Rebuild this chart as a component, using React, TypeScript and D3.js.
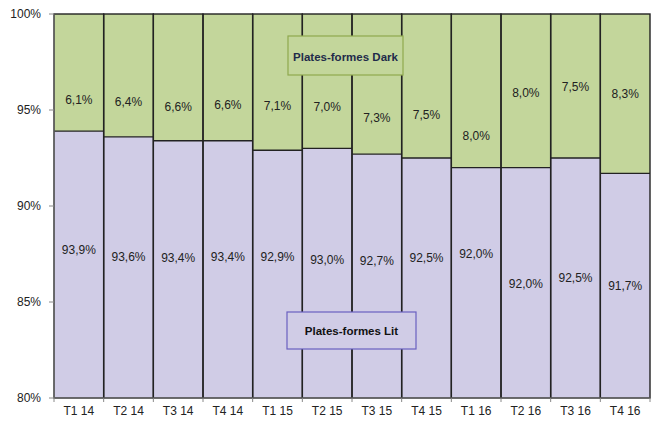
import React from "react";
import * as d3 from "d3";

const categories = ["T1 14", "T2 14", "T3 14", "T4 14", "T1 15", "T2 15", "T3 15", "T4 15", "T1 16", "T2 16", "T3 16", "T4 16"];
const litValues = [93.9, 93.6, 93.4, 93.4, 92.9, 93.0, 92.7, 92.5, 92.0, 92.0, 92.5, 91.7];
const darkValues = [6.1, 6.4, 6.6, 6.6, 7.1, 7.0, 7.3, 7.5, 8.0, 8.0, 7.5, 8.3];
// label anchor levels (in % units on the value axis), as placed in the original
const litLabelAt = [87.71, 87.34, 87.29, 87.34, 87.34, 87.19, 87.14, 87.29, 87.5, 85.94, 86.25, 85.83];
const darkLabelAt = [95.52, 95.42, 95.16, 95.26, 95.21, 95.16, 94.58, 94.74, 93.65, 95.89, 96.2, 95.83];
const yTicks = [80, 85, 90, 95, 100];
const seriesNames = ["Plates-formes Lit", "Plates-formes Dark"];

const W = 657, H = 421;
const M = { left: 54, right: 7, top: 14, bottom: 23 };
const GREEN = "#C3D69B";
const LAV = "#D0CCE6";

const fmt = (v: number) => v.toFixed(1).replace(".", ",") + "%";

export default function App() {
  const x = d3.scaleBand<string>().domain(categories).range([M.left, W - M.right]).padding(0);
  const y = d3.scaleLinear().domain([80, 100]).range([H - M.bottom, M.top]);
  const bw = x.bandwidth();
  const font = "'Liberation Sans', Arial, sans-serif";

  return (
    <svg width={W} height={H} style={{ position: "absolute", left: 0, top: 0 }} fontFamily={font}>
      <rect x={0} y={0} width={W} height={H} fill="#fff" />
      {categories.map((c, i) => {
        const x0 = x(c)!;
        const yLit = y(litValues[i]);
        return (
          <g key={c}>
            <rect x={x0} y={y(100)} width={bw} height={yLit - y(100)} fill={GREEN} />
            <rect x={x0} y={yLit} width={bw} height={y(80) - yLit} fill={LAV} />
          </g>
        );
      })}
      {categories.map((c, i) => {
        const x0 = x(c)!;
        const yLit = y(litValues[i]);
        return (
          <g key={"b" + c} fill="none" stroke="#222" strokeWidth={1.4}>
            <rect x={x0} y={y(100)} width={bw} height={y(80) - y(100)} />
            <line x1={x0} x2={x0 + bw} y1={yLit} y2={yLit} />
          </g>
        );
      })}
      {/* axes */}
      <line x1={M.left} x2={M.left} y1={y(100)} y2={y(80)} stroke="#777" strokeWidth={1} />
      <line x1={M.left} x2={W - M.right} y1={y(80)} y2={y(80)} stroke="#777" strokeWidth={1} />
      {yTicks.map((t) => (
        <g key={t}>
          <line x1={M.left - 5} x2={M.left} y1={y(t)} y2={y(t)} stroke="#888" />
          <text x={M.left - 13} y={y(t)} dy="0.35em" textAnchor="end" fontSize={12} fill="#222">
            {t}%
          </text>
        </g>
      ))}
      {categories.map((c) => (
        <line key={"xt" + c} x1={x(c)!} x2={x(c)!} y1={y(80)} y2={y(80) + 4} stroke="#888" />
      ))}
      <line x1={W - M.right} x2={W - M.right} y1={y(80)} y2={y(80) + 4} stroke="#888" />
      {categories.map((c) => (
        <text key={"xl" + c} x={x(c)! + bw / 2} y={y(80) + 13} dy="0.35em" textAnchor="middle" fontSize={12} fill="#222">
          {c}
        </text>
      ))}
      {/* value labels */}
      {categories.map((c, i) => (
        <g key={"l" + c} fontSize={12} fill="#222" textAnchor="middle">
          <text x={x(c)! + bw / 2} y={y(darkLabelAt[i])} dy="0.35em">{fmt(darkValues[i])}</text>
          <text x={x(c)! + bw / 2} y={y(litLabelAt[i])} dy="0.35em">{fmt(litValues[i])}</text>
        </g>
      ))}
      {/* legend boxes */}
      <rect x={288} y={36} width={115} height={39} fill={GREEN} stroke="#8FA84E" strokeWidth={1.2} />
      <text x={345.5} y={57} dy="0.35em" textAnchor="middle" fontSize={11.5} fontWeight="bold" fill="#1F2B4A">
        {seriesNames[1]}
      </text>
      <rect x={287} y={312} width={129} height={37} fill={LAV} stroke="#6A5FC0" strokeWidth={1.2} />
      <text x={351.5} y={331} dy="0.35em" textAnchor="middle" fontSize={11.5} fontWeight="bold" fill="#111">
        {seriesNames[0]}
      </text>
    </svg>
  );
}
